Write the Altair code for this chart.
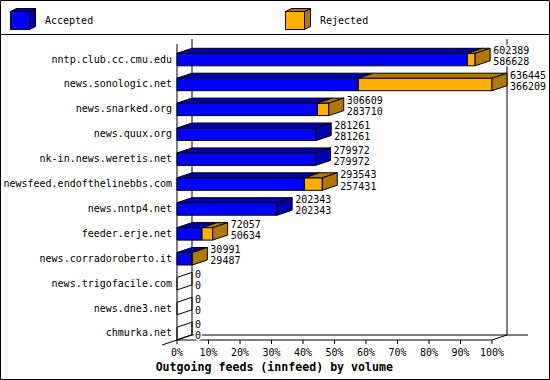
import altair as alt
import pandas as pd

# ---------------- data ----------------
feeds = ["nntp.club.cc.cmu.edu", "news.sonologic.net", "news.snarked.org",
         "news.quux.org", "nk-in.news.weretis.net", "newsfeed.endofthelinebbs.com",
         "news.nntp4.net", "feeder.erje.net", "news.corradoroberto.it",
         "news.trigofacile.com", "news.dne3.net", "chmurka.net"]
offered = [602389, 636445, 306609, 281261, 279972, 293543, 202343, 72057, 30991, 0, 0, 0]
accepted = [586628, 366209, 283710, 281261, 279972, 257431, 202343, 50634, 29487, 0, 0, 0]
series = ["Accepted", "Rejected"]
pct_ticks = [0, 0.1, 0.2, 0.3, 0.4, 0.5, 0.6, 0.7, 0.8, 0.9, 1.0]
pct_labels = ["0%", "10%", "20%", "30%", "40%", "50%", "60%", "70%", "80%", "90%", "100%"]
axis_title = "Outgoing feeds (innfeed) by volume"

# ---------------- styles / geometry ----------------
front_col = {"Accepted": "#0000FF", "Rejected": "#FFAF00"}
shade_col = {"Accepted": "#0000B0", "Rejected": "#B07800"}
FONT = "DejaVu Sans Mono"
W, H = 550, 380
L, T, PW, PH = 177, 44, 315, 296
PITCH = 24.9
C0 = 59.55
BH = 12.5
DXP, DYP = 15, 5
TICK = 4

ppu = float(PW)          # pixels per unit share (0..1)
dxu = DXP / ppu
dyu = DYP / PITCH
hh = BH / 2 / PITCH
y_lo = -(C0 - T) / PITCH
y_hi = y_lo + PH / PITCH
top_m = max(offered)

front_rows, top_rows, side_rows, lab_rows, name_rows = [], [], [], [], []
for i, (name, off, acc) in enumerate(zip(feeds, offered, accepted)):
    a = acc / top_m
    t = off / top_m
    yt, yb = i - hh, i + hh
    last = None
    for s, x0, x1 in [("Accepted", 0, a), ("Rejected", a, t)]:
        if x1 - x0 <= 0:
            continue
        last = s
        front_rows.append(dict(x=x0, x2=x1, yt=yt, yb=yb, fill=front_col[s]))
        sid = f"{i}-{s}"
        top_rows.append(dict(sid=sid, y=yt, x=x0, x2=x1, fill=shade_col[s]))
        top_rows.append(dict(sid=sid, y=yt - dyu, x=x0 + dxu, x2=x1 + dxu, fill=shade_col[s]))
    fill = shade_col[last] if last else "transparent"
    side_rows.append(dict(sid=str(i), x=t, y=yt, y2=yb, fill=fill))
    side_rows.append(dict(sid=str(i), x=t + dxu, y=yt - dyu, y2=yb - dyu, fill=fill))
    lab_rows.append(dict(x=t + dxu, y=i, t1=str(off), t2=str(acc)))
    name_rows.append(dict(x=0, y=i, name=name))

# frame lines: back wall, floor, front axes
wall = pd.DataFrame([
    dict(x=dxu, x2=dxu, y=y_lo - dyu, y2=y_hi - dyu),
    dict(x=1 + dxu, x2=1 + dxu, y=y_lo - dyu, y2=y_hi - dyu),
    dict(x=dxu, x2=1 + dxu + 21 / ppu, y=y_hi - dyu, y2=y_hi - dyu),
    dict(x=-dxu, x2=dxu, y=y_hi + dyu, y2=y_hi - dyu),
    dict(x=1, x2=1 + dxu, y=y_hi, y2=y_hi - dyu),
])
front_axes = pd.DataFrame([
    dict(x=0, x2=0, y=y_lo, y2=y_hi),
    dict(x=0, x2=1, y=y_hi, y2=y_hi),
])
ticks_df = pd.DataFrame(dict(x=pct_ticks, y=[y_hi] * len(pct_ticks),
                             y2=[y_hi + TICK / PITCH] * len(pct_ticks),
                             label=pct_labels))

xs = alt.Scale(domain=[0, 1], nice=False, zero=False)
ys = alt.Scale(domain=[y_lo, y_hi], nice=False, zero=False, reverse=True)
X = lambda f: alt.X(f, scale=xs, axis=None)
Y = lambda f: alt.Y(f, scale=ys, axis=None)

walls = alt.Chart(wall).mark_rule(color="black", strokeWidth=1).encode(
    x=X("x:Q"), x2="x2:Q", y=Y("y:Q"), y2="y2:Q")

fronts = alt.Chart(pd.DataFrame(front_rows)).mark_rect(stroke="black", strokeWidth=1, opacity=1).encode(
    x=X("x:Q"), x2="x2:Q", y=Y("yt:Q"), y2="yb:Q",
    fill=alt.Fill("fill:N", scale=None))

tops = alt.Chart(pd.DataFrame(top_rows)).mark_area(
    orient="horizontal", stroke="black", strokeWidth=1, opacity=1, fillOpacity=1).encode(
    y=Y("y:Q"), x=alt.X("x:Q", scale=xs, axis=None, stack=False), x2="x2:Q",
    detail="sid:N", fill=alt.Fill("fill:N", scale=None))

sides = alt.Chart(pd.DataFrame(side_rows)).mark_area(
    orient="vertical", stroke="black", strokeWidth=1, opacity=1, fillOpacity=1).encode(
    x=X("x:Q"), y=alt.Y("y:Q", scale=ys, axis=None, stack=False), y2="y2:Q",
    detail="sid:N", fill=alt.Fill("fill:N", scale=None))

axes_lines = alt.Chart(front_axes).mark_rule(color="black", strokeWidth=1).encode(
    x=X("x:Q"), x2="x2:Q", y=Y("y:Q"), y2="y2:Q")
tick_marks = alt.Chart(ticks_df).mark_rule(color="black", strokeWidth=1).encode(
    x=X("x:Q"), y=Y("y:Q"), y2="y2:Q")
tick_labels = alt.Chart(ticks_df).mark_text(
    align="center", baseline="alphabetic", dy=16, font=FONT, fontSize=10, color="black").encode(
    x=X("x:Q"), y=Y("y:Q"), text="label:N")

names = alt.Chart(pd.DataFrame(name_rows)).mark_text(
    align="right", baseline="middle", dx=-5, font=FONT, fontSize=10, color="black").encode(
    x=X("x:Q"), y=Y("y:Q"), text="name:N")

base_t = alt.Chart(pd.DataFrame(lab_rows)).encode(x=X("x:Q"), y=Y("y:Q"))
txt_kw = dict(align="left", baseline="alphabetic", dx=3, font=FONT, fontSize=10)
halo1 = base_t.mark_text(dy=-5.6, fill="white", stroke="white", strokeWidth=3, **txt_kw).encode(text="t1:N")
halo2 = base_t.mark_text(dy=5.5, fill="white", stroke="white", strokeWidth=3, **txt_kw).encode(text="t2:N")
txt1 = base_t.mark_text(dy=-5.6, color="black", **txt_kw).encode(text="t1:N")
txt2 = base_t.mark_text(dy=5.5, color="black", **txt_kw).encode(text="t2:N")

one = pd.DataFrame({"k": [0]})
title_txt = alt.Chart(one).mark_text(
    align="center", baseline="alphabetic", font=FONT, fontSize=11.6, fontWeight="bold",
    color="black").encode(x=alt.value(W / 2 - L - 0.7), y=alt.value(370.5 - T),
                          text=alt.value(axis_title))
frame = alt.Chart(one).mark_rect(fill="transparent", stroke="black", strokeWidth=1).encode(
    x=alt.value(0.5 - L), x2=alt.value(W - 0.5 - L),
    y=alt.value(0.5 - T), y2=alt.value(H - 0.5 - T))
sep = alt.Chart(one).mark_rule(color="black", strokeWidth=1).encode(
    x=alt.value(-L), x2=alt.value(W - L), y=alt.value(34.5 - T))

legend_layers = []
legend_x = [10, 285]
cube_path = "M-19,0L-13,-3L6,-3L0,0Z M0,0L6,-3L6,15L0,18Z"
for k, s in enumerate(series):
    fx = legend_x[k]
    legend_layers.append(alt.Chart(one).mark_rect(fill=front_col[s], stroke="black", strokeWidth=1).encode(
        x=alt.value(fx + 0.5 - L), x2=alt.value(fx + 19.5 - L),
        y=alt.value(11.5 - T), y2=alt.value(29.5 - T)))
    legend_layers.append(alt.Chart(one).mark_point(
        shape=cube_path, size=4, filled=True, fill=shade_col[s], stroke="black",
        strokeWidth=1, opacity=1).encode(
        x=alt.value(fx + 19.5 - L), y=alt.value(11.5 - T)))
    legend_layers.append(alt.Chart(one).mark_text(
        align="left", baseline="alphabetic", font=FONT, fontSize=10, color="black").encode(
        x=alt.value(fx + 35 - L), y=alt.value(24 - T), text=alt.value(s)))

chart = alt.layer(walls, axes_lines, tick_marks, fronts, tops, sides, names, tick_labels,
                  halo1, halo2, txt1, txt2, title_txt, frame, sep, *legend_layers).properties(
    width=PW, height=PH,
    padding={"left": L, "top": T, "right": W - L - PW, "bottom": H - T - PH},
    autosize=alt.AutoSizeParams(type="none"),
).configure_view(stroke="transparent")

chart.save("out.html", embed_options={"renderer": "svg", "actions": False})
